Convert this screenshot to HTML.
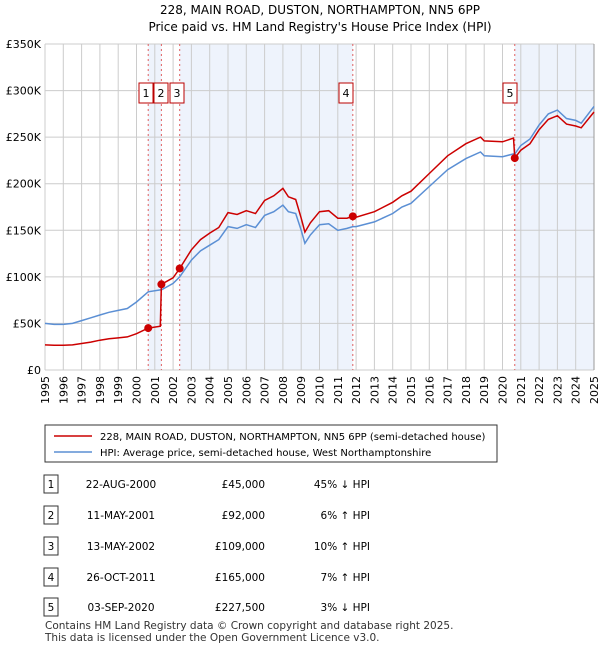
<!DOCTYPE html>
<html><head><meta charset="utf-8"><style>
body{margin:0;background:#fff;font-family:"Liberation Sans","DejaVu Sans",sans-serif;}
svg text{font-family:"DejaVu Sans","Liberation Sans",sans-serif;}
</style></head><body>
<svg id="c" width="600" height="650" xmlns="http://www.w3.org/2000/svg">
<text x="320" y="14" text-anchor="middle" font-size="12">228, MAIN ROAD, DUSTON, NORTHAMPTON, NN5 6PP</text>
<text x="320" y="31" text-anchor="middle" font-size="12">Price paid vs. HM Land Registry's House Price Index (HPI)</text>
<g id="plot"></g>
<g id="legend">
<rect x="45" y="425" width="452" height="37" fill="#fff" stroke="#333" stroke-width="1"/>
<line x1="54" y1="436" x2="92" y2="436" stroke="#cc0000" stroke-width="1.5"/>
<text x="100" y="440" font-size="10">228, MAIN ROAD, DUSTON, NORTHAMPTON, NN5 6PP (semi-detached house)</text>
<line x1="54" y1="452" x2="92" y2="452" stroke="#5b8fd4" stroke-width="1.5"/>
<text x="100" y="456" font-size="10">HPI: Average price, semi-detached house, West Northamptonshire</text>
</g>
<g id="table"></g>
<text x="45" y="629" font-size="10.5" fill="#333">Contains HM Land Registry data © Crown copyright and database right 2025.</text>
<text x="45" y="641" font-size="10.5" fill="#333">This data is licensed under the Open Government Licence v3.0.</text>
</svg>
<script>
const hpiDates=[1995,1995.5,1996,1996.5,1997,1997.5,1998,1998.5,1999,1999.5,2000,2000.64,2001.3,2001.36,2002,2002.36,2003,2003.5,2004,2004.5,2005,2005.5,2006,2006.5,2007,2007.5,2008,2008.3,2008.7,2009,2009.2,2009.5,2010,2010.5,2011,2011.5,2011.82,2012,2013,2014,2014.5,2015,2016,2017,2018,2018.8,2019,2020,2020.6,2020.67,2021,2021.5,2022,2022.5,2023,2023.5,2024,2024.3,2025];
const hpiValues=[50,49,49,50,53,56,59,62,64,66,73,84,86,86,93,100,118,128,134,140,154,152,156,153,166,170,177,170,168,150,136,145,156,157,150,152,154,154,159,168,175,179,197,215,227,234,230,229,232,232,241,248,263,275,279,270,268,265,283];
const redValues=[27,26.5,26.5,27,28.5,30,32,33.5,34.5,35.5,39,45,47,92,99,109,129,140,147,153,169,167,171,168,182,187,195,186,183,163,148,158,170,171,163,163,165,164,170,180,187,192,211,230,243,250,246,245,249,227.5,236,243,258,269,273,264,262,260,277];
const saleDates=[2000.64,2001.36,2002.36,2011.82,2020.67];
const salePrices=[45,92,109,165,227.5];
const saleLabels=["1","2","3","4","5"];
const saleDateText=["22-AUG-2000","11-MAY-2001","13-MAY-2002","26-OCT-2011","03-SEP-2020"];
const salePriceText=["£45,000","£92,000","£109,000","£165,000","£227,500"];
const saleHpiText=["45% ↓ HPI","6% ↑ HPI","10% ↑ HPI","7% ↑ HPI","3% ↓ HPI"];
const yTicks=[0,50,100,150,200,250,300,350];
const yTickLabels=["£0","£50K","£100K","£150K","£200K","£250K","£300K","£350K"];
const xTicks=[1995,1996,1997,1998,1999,2000,2001,2002,2003,2004,2005,2006,2007,2008,2009,2010,2011,2012,2013,2014,2015,2016,2017,2018,2019,2020,2021,2022,2023,2024,2025];

const NS="http://www.w3.org/2000/svg";
const L=45,R=594,T=44,B=370;
const xs=d=>L+(d-1995)/30*(R-L);
const ys=v=>B-v/350*(B-T);
function mk(tag,attrs,parent){const e=document.createElementNS(NS,tag);for(const k in attrs)e.setAttribute(k,attrs[k]);parent.appendChild(e);return e;}
const plot=document.getElementById('plot');
// shading
const shades=[[saleDates[0],saleDates[1]],[saleDates[2],saleDates[3]],[saleDates[4],2025]];
shades.forEach(s=>{const r=mk('rect',{x:xs(s[0]),y:T,width:xs(s[1])-xs(s[0]),height:B-T,fill:'#eef3fc'},plot);

});
yTicks.forEach((t,i)=>{const g=mk('line',{x1:L,x2:R,y1:ys(t),y2:ys(t),stroke:'#ccc','stroke-width':1},plot);


const tx=mk('text',{x:L-4,y:ys(t)+4,'text-anchor':'end','font-size':11},plot);tx.textContent=yTickLabels[i];

});
xTicks.forEach(t=>{const g=mk('line',{x1:xs(t),x2:xs(t),y1:T,y2:B,stroke:'#ccc','stroke-width':1},plot);


const tx=mk('text',{x:0,y:0,'text-anchor':'end','font-size':11,transform:`translate(${xs(t)+4},${B+6}) rotate(-90)`},plot);tx.textContent=t;

});
mk('line',{x1:R,x2:R,y1:T,y2:B,stroke:'#999'},plot);
saleDates.forEach((d,i)=>{const l=mk('line',{x1:xs(d),x2:xs(d),y1:T,y2:B,stroke:'#e06060','stroke-width':1,'stroke-dasharray':'2,3'},plot);

});
function path(vals,color,name){const d=hpiDates.map((x,i)=>(i?'L':'M')+xs(x).toFixed(1)+','+ys(vals[i]).toFixed(1)).join('');
const p=mk('path',{d:d,fill:'none',stroke:color,'stroke-width':1.5},plot);

}
path(hpiValues,'#5b8fd4','hpi-line');
path(redValues,'#cc0000','price-paid-line');
saleDates.forEach((d,i)=>{const c=mk('circle',{cx:xs(d),cy:ys(salePrices[i]),r:4,fill:'#cc0000'},plot);


const bx=i==1?xs(d)-16:xs(d)-(i==0?16:16);
const lx=[xs(d)-16,xs(d)+0,xs(d)-8,xs(d)-16,xs(d)-16][i];
const b=mk('rect',{x:[139,154,170,339,503][i],y:83,width:14,height:20,fill:'#fff',stroke:'#b00','stroke-width':1},plot);


const t=mk('text',{x:[146,161,177,346,510][i],y:97,'text-anchor':'middle','font-size':11},plot);t.textContent=saleLabels[i];

});
const tb=document.getElementById('table');
saleDates.forEach((d,i)=>{const y=[483,514,545,576,606][i];
const b=mk('rect',{x:44,y:y-8,width:14,height:18,fill:'#fff',stroke:'#333'},tb);


const cells=[[51,saleLabels[i],'middle'],[121,saleDateText[i],'middle'],[265,salePriceText[i],'end'],[370,saleHpiText[i],'end']];
cells.forEach(c=>{const t=mk('text',{x:c[0],y:y+5,'text-anchor':c[2],'font-size':10.5},tb);t.textContent=c[1];

});});
</script>
</body></html>
